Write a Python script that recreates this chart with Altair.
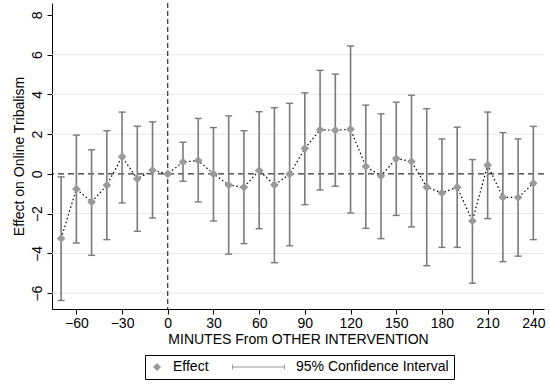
import altair as alt
import pandas as pd

# Event-study estimates: effect on online tribalism by minutes from the other intervention
minutes = [-70, -60, -50, -40, -30, -20, -10, 0, 10, 20, 30, 40, 50, 60, 70, 80,
           90, 100, 110, 120, 130, 140, 150, 160, 170, 180, 190, 200, 210, 220, 230, 240]
effect = [-3.25, -0.76, -1.41, -0.57, 0.86, -0.25, 0.18, 0.0, 0.60, 0.67, 0.0, -0.56,
          -0.67, 0.17, -0.56, -0.02, 1.28, 2.22, 2.20, 2.25, 0.37, -0.10, 0.77, 0.62,
          -0.67, -0.96, -0.67, -2.37, 0.44, -1.18, -1.19, -0.47]
ci_low = [-6.37, -3.48, -4.10, -3.31, -1.46, -2.89, -2.22, None, -0.37, -1.41, -2.37, -4.04,
          -3.51, -2.76, -4.47, -3.62, -1.55, -0.81, -0.62, -1.97, -2.74, -3.26, -2.09, -2.67,
          -4.62, -3.70, -3.70, -5.50, -2.25, -4.42, -4.14, -3.31]
ci_high = [-0.15, 1.95, 1.21, 2.17, 3.11, 2.40, 2.62, None, 1.59, 2.79, 2.33, 2.92,
           2.17, 3.13, 3.33, 3.55, 4.08, 5.21, 5.02, 6.44, 3.46, 3.02, 3.61, 3.96,
           3.28, 1.76, 2.35, 0.72, 3.11, 2.08, 1.76, 2.39]

x_ticks = [-60, -30, 0, 30, 60, 90, 120, 150, 180, 210, 240]
y_ticks = [-6, -4, -2, 0, 2, 4, 6, 8]
grid_values = [-6, -4, -2, 2, 4, 6]
legend_labels = ["Effect", "95% Confidence Interval"]

df = pd.DataFrame({"minutes": minutes, "effect": effect, "lo": ci_low, "hi": ci_high})
df["series"] = "Effect"

FONT = "Liberation Sans"
BAR = "#7a7a7a"
DIAMOND = "#9a9a9a"
# filled capped bar used as the confidence-interval legend symbol
CI_SYMBOL = ("M-12,-0.15H1.25V0.15H-12Z"
             "M-12,-0.6H-11.75V0.6H-12Z"
             "M1,-0.6H1.25V0.6H1Z")

x_scale = alt.Scale(domain=[-76, 247], nice=False, zero=False)
y_scale = alt.Scale(domain=[-6.8, 8.6], nice=False, zero=False)

x_axis = alt.Axis(values=x_ticks, title="MINUTES From OTHER INTERVENTION", grid=False,
                  tickSize=5, labelPadding=2, titlePadding=2)
y_axis = alt.Axis(values=y_ticks, title="Effect on Online Tribalism", grid=False,
                  tickSize=5, labelAngle=-90, labelPadding=3, titlePadding=4)

base = alt.Chart(df)

grid = alt.Chart(pd.DataFrame({"g": grid_values})).mark_rule(
    color="#e6e6e6", strokeWidth=1
).encode(y=alt.Y("g:Q", scale=y_scale, axis=y_axis))

zero_line = alt.Chart(pd.DataFrame({"z": [0]})).mark_rule(
    color="black", strokeWidth=1, strokeDash=[6, 4]
).encode(y=alt.Y("z:Q", scale=y_scale))

event_line = alt.Chart(pd.DataFrame({"z": [0]})).mark_rule(
    color="black", strokeWidth=1, strokeDash=[5, 3]
).encode(x=alt.X("z:Q", scale=x_scale, axis=x_axis))

with_ci = base.transform_filter("isValid(datum.lo)")

bars = with_ci.mark_rule(color=BAR, strokeWidth=1.6).encode(
    x=alt.X("minutes:Q", scale=x_scale),
    y=alt.Y("lo:Q", scale=y_scale),
    y2="hi:Q",
)
caps_lo = with_ci.mark_tick(color=BAR, orient="horizontal", size=7, thickness=1.4, opacity=1).encode(
    x=alt.X("minutes:Q", scale=x_scale),
    y=alt.Y("lo:Q", scale=y_scale),
)
caps_hi = with_ci.mark_tick(color=BAR, orient="horizontal", size=7, thickness=1.4, opacity=1).encode(
    x=alt.X("minutes:Q", scale=x_scale),
    y=alt.Y("hi:Q", scale=y_scale),
)

path = base.mark_line(color="black", strokeWidth=1.2, strokeDash=[1.5, 2.5]).encode(
    x=alt.X("minutes:Q", scale=x_scale),
    y=alt.Y("effect:Q", scale=y_scale),
)

points = base.mark_point(filled=True, color=DIAMOND, size=75, opacity=1).encode(
    x=alt.X("minutes:Q", scale=x_scale),
    y=alt.Y("effect:Q", scale=y_scale),
    shape=alt.Shape(
        "series:N",
        scale=alt.Scale(domain=legend_labels, range=["diamond", CI_SYMBOL]),
        legend=alt.Legend(
            title=None, orient="none", direction="horizontal",
            legendX=93, legendY=352,
            strokeColor="black", fillColor="white", padding=5, cornerRadius=0,
            symbolSize=64, symbolFillColor=DIAMOND, symbolOpacity=1,
            labelFontSize=14, labelFont=FONT, labelColor="black",
            labelOffset=9, columnPadding=20, labelLimit=300,
        ),
    ),
)

chart = alt.layer(grid, zero_line, event_line, bars, caps_lo, caps_hi, path, points).properties(
    width=492, height=306,
    autosize=alt.AutoSizeParams(type="none"),
    padding={"left": 52, "top": 3, "right": 6, "bottom": 75},
    background="white",
).configure_view(stroke=None).configure_axis(
    labelFont=FONT, titleFont=FONT, labelFontSize=14, titleFontSize=14,
    titleFontWeight="normal", labelColor="black", titleColor="black",
    domainColor="black", tickColor="black", domainWidth=1, tickWidth=1,
)

chart.save("out.html", embed_options={"renderer": "svg", "actions": False})
